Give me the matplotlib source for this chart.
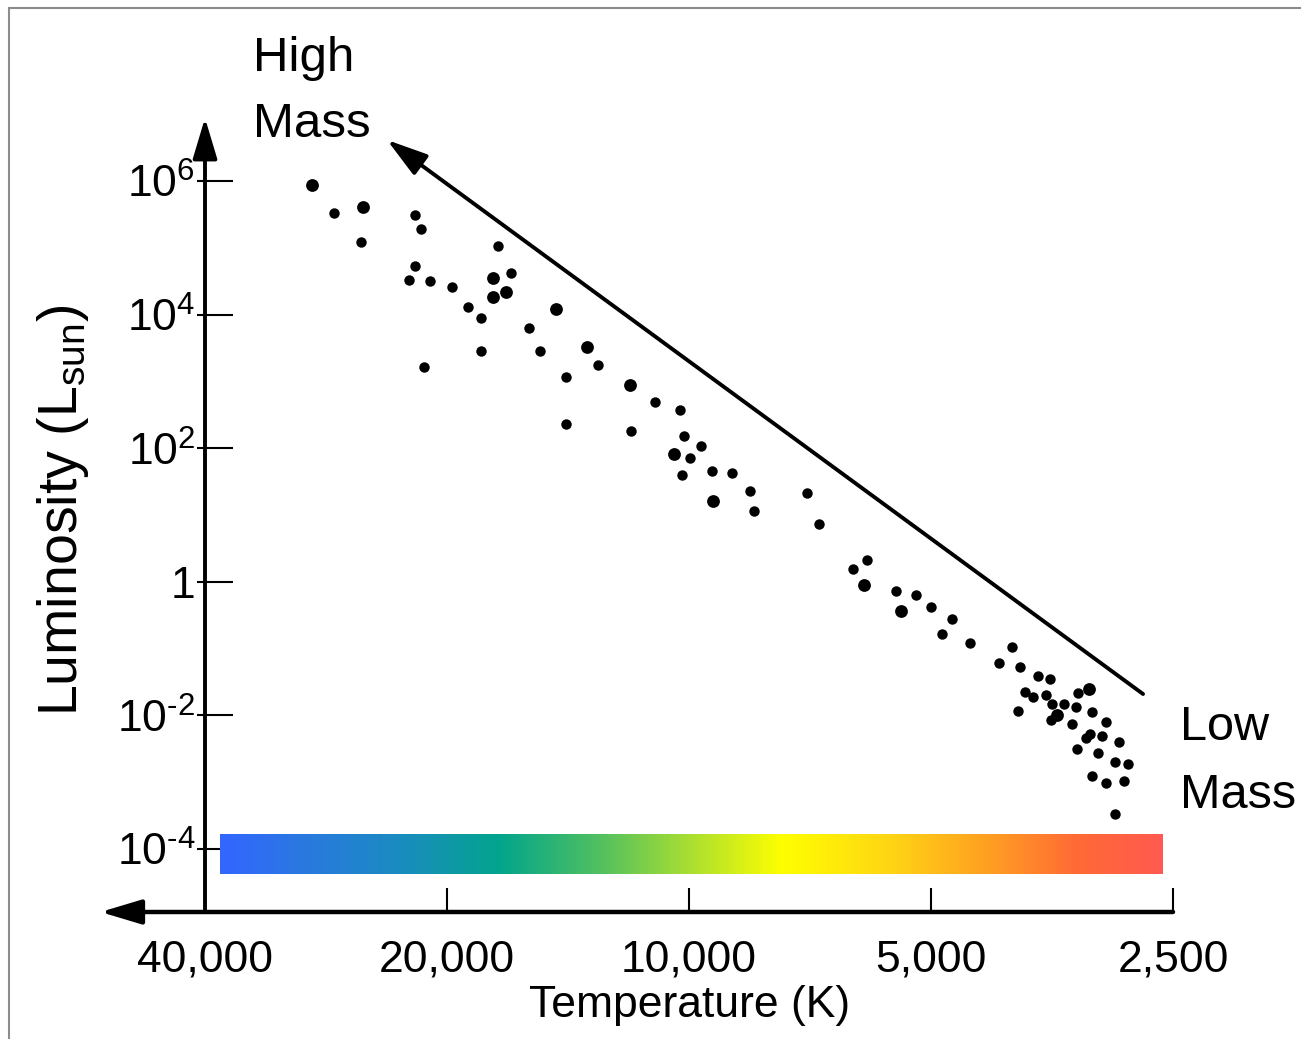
import numpy as np
import matplotlib
matplotlib.use("Agg")
import matplotlib.pyplot as plt
from matplotlib.colors import LinearSegmentedColormap
from matplotlib.patches import Rectangle
from matplotlib.ticker import FixedLocator, NullLocator, NullFormatter

plt.rcParams['font.family'] = ['Liberation Sans', 'DejaVu Sans']
plt.rcParams['mathtext.fontset'] = 'custom'
plt.rcParams['mathtext.rm'] = 'Liberation Sans'
plt.rcParams['mathtext.it'] = 'Liberation Sans:italic'

# main sequence stars (temperature in K, luminosity in L_sun)
temp_big = [29470, 25420, 17550, 17550, 16900, 14640, 13400, 11840, 10440,
            9330, 6050, 5450, 3180, 3490]
lum_big = [8.71e5, 4.12e5, 3.57e4, 1.85e4, 2.16e4, 1.21e4, 3.31e3, 874, 81.9,
           16.0, 0.896, 0.369, 0.0246, 0.01014]

temp_small = [27620, 25610, 21900, 21570, 21900, 22320, 20980, 19700, 17270,
              16640, 18850, 18160, 15830, 18160, 15340, 12960, 21360, 14220,
              14220, 11020, 10270, 11800, 10150, 9650, 9960, 9360, 8850,
              10200, 8400, 7140, 8310, 6900, 6010, 6250, 5520, 5220, 5000,
              4710, 4850, 4470, 3970, 4120, 3880, 3680, 3560, 3285, 3820,
              3730, 3600, 3540, 3420, 3300, 3150, 3900, 3545, 3340, 3030,
              3175, 3210, 3060, 2920, 3290, 3100, 2955, 2840, 3150, 3025,
              2875, 2950]
lum_small = [3.29e5, 1.22e5, 3.10e5, 1.89e5, 5.34e4, 3.30e4, 3.15e4, 2.56e4,
             1.06e5, 4.15e4, 1.31e4, 8.80e3, 6.37e3, 2.88e3, 2.88e3, 1.78e3,
             1.63e3, 1.18e3, 228, 497, 373, 179, 152, 109, 72.1, 46.0, 43.0,
             39.7, 23.1, 21.3, 11.5, 7.26, 2.14, 1.54, 0.736, 0.628, 0.415,
             0.275, 0.167, 0.120, 0.105, 0.0602, 0.0536, 0.0389, 0.0351,
             0.0219, 0.0226, 0.0191, 0.0202, 0.0147, 0.0147, 0.0132, 0.0114,
             0.0116, 0.00853, 0.00743, 0.00788, 0.00521, 0.00464, 0.00491,
             0.00404, 0.00317, 0.00276, 0.00201, 0.00185, 0.00124, 0.000963,
             0.00105, 0.000334]

x_ticks = [40000, 20000, 10000, 5000, 2500]
x_labels = ['40,000', '20,000', '10,000', '5,000', '2,500']
y_ticks = [1e6, 1e4, 1e2, 1, 1e-2, 1e-4]
y_labels = [r'$\mathregular{10^{6}}$', r'$\mathregular{10^{4}}$',
            r'$\mathregular{10^{2}}$', '1',
            r'$\mathregular{10^{\text{-}2}}$', r'$\mathregular{10^{\text{-}4}}$']

# spectrum strip colours, hot (left) to cool (right)
strip_colors = ['#3366ff', '#2a78e0', '#1a8cc0', '#03a58c', '#52c060',
                '#b3e22c', '#ffff00', '#fed614', '#ff9f22', '#ff6a35', '#ff5a50']
strip_pos = [0, 0.085, 0.19, 0.297, 0.403, 0.509, 0.597, 0.71, 0.816, 0.909, 1.0]

W, H = 1301, 1039
fig = plt.figure(figsize=(W / 100, H / 100), dpi=100)

def fx(px):
    return px / W

def fy(py):
    return 1 - py / H

ax = fig.add_axes([fx(205), fy(912), fx(1173) - fx(205), fy(118) - fy(912)])
ax.set_xscale('log')
ax.set_yscale('log')
ax.set_xlim(40000, 2500)
ax.set_ylim(10 ** -4.943, 10 ** 6.943)
for s in ax.spines.values():
    s.set_visible(False)

ax.plot(temp_small, lum_small, 'o', color='black', ms=7.5, mew=0, zorder=3)
ax.plot(temp_big, lum_big, 'o', color='black', ms=9.2, mew=0, zorder=3)

ax.set_xticks(x_ticks)
ax.set_xticklabels(x_labels, fontsize=32)
ax.xaxis.set_minor_locator(NullLocator())
ax.tick_params(axis='x', which='major', direction='in', length=17, width=1.5,
               pad=20)

ax.set_yticks(y_ticks)
ax.set_yticklabels(y_labels, fontsize=32)
ax.yaxis.remove_overlapping_locs = False
ax.yaxis.set_minor_locator(FixedLocator(y_ticks))
ax.yaxis.set_minor_formatter(NullFormatter())
ax.tick_params(axis='y', which='major', direction='in', length=20, width=1.5,
               pad=7)
ax.tick_params(axis='y', which='minor', direction='out', length=6, width=1.5)

# axis lines with arrows
arrow = dict(arrowstyle='-|>,head_length=1.0,head_width=0.3', mutation_scale=25,
             color='black', shrinkA=0, shrinkB=0)
ax.annotate('', xy=(0, 1), xytext=(0, 0), xycoords='axes fraction',
            arrowprops=dict(arrow, lw=2.8))
ax.annotate('', xy=(-0.108, 0), xytext=(1, 0), xycoords='axes fraction',
            arrowprops=dict(arrow, lw=3.2))
# mass direction arrow
ax.annotate('', xy=(23750, 4.11e6), xytext=(2724, 0.0209), xycoords='data',
            arrowprops=dict(arrow, lw=2.8))

fig.text(fx(253), fy(71), 'High', fontsize=35.5, va='baseline', ha='left')
fig.text(fx(253), fy(137), 'Mass', fontsize=35.5, va='baseline', ha='left')
fig.text(fx(1180), fy(740), 'Low', fontsize=35, va='baseline', ha='left')
fig.text(fx(1180), fy(808), 'Mass', fontsize=35, va='baseline', ha='left')

fig.text(fx(690), fy(1005), 'Temperature (K)', fontsize=32,
         ha='center', va='center')
fig.text(fx(63), fy(510), r'Luminosity (L$_{\mathregular{sun}}$)', fontsize=40,
         rotation=90, ha='center', va='center')

# colour strip
cmap = LinearSegmentedColormap.from_list('spec', list(zip(strip_pos, strip_colors)))
cax = fig.add_axes([fx(220), fy(874), fx(1163) - fx(220), fy(834) - fy(874)])
cax.imshow(np.linspace(0, 1, 512)[None, :], cmap=cmap, aspect='auto')
cax.axis('off')

# frame
fig.add_artist(Rectangle((fx(8.5), -0.1), 1.2, fy(7.5) + 0.1,
                         transform=fig.transFigure, fill=False,
                         ec='#8c8c8c', lw=1.5))

fig.savefig('out.png', dpi=100)
